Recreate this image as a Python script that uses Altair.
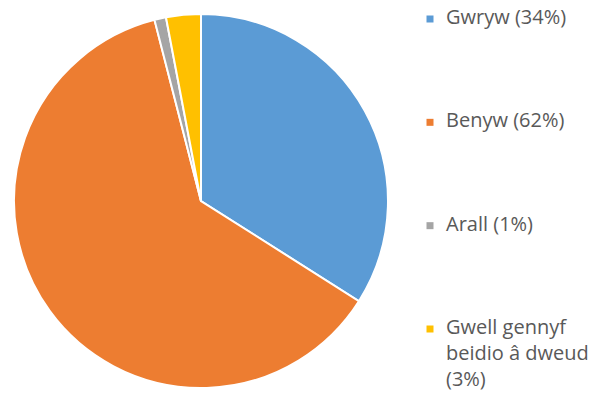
import altair as alt
import pandas as pd

categories = ["Gwryw", "Benyw", "Arall", "Gwell gennyf beidio â dweud"]
values = [34, 62, 1, 3]
legend_labels = ["Gwryw (34%)", "Benyw (62%)", "Arall (1%)", "Gwell gennyf\nbeidio â dweud\n(3%)"]
colors = ["#5B9BD5", "#ED7D31", "#A5A5A5", "#FFC000"]

df = pd.DataFrame({
    "category": categories,
    "value": values,
    "label": legend_labels,
    "order": list(range(len(categories))),
})

color_scale = alt.Scale(domain=categories, range=colors)

pie = alt.Chart(df).mark_arc(outerRadius=187, stroke="white", strokeWidth=2).encode(
    theta=alt.Theta("value:Q", stack=True),
    order=alt.Order("order:Q"),
    color=alt.Color("category:N", scale=color_scale, legend=None),
    x=alt.value(193),
    y=alt.value(193),
)

legend_y = alt.Y("order:Q", scale=alt.Scale(domain=[0, 3], range=[11, 321]), axis=None)

leg_sym = alt.Chart(df).mark_square(size=49, opacity=1).encode(
    x=alt.value(422),
    y=legend_y,
    color=alt.Color("category:N", scale=color_scale, legend=None),
)

leg_txt = alt.Chart(df).mark_text(
    align="left", baseline="top", dy=-11, fontSize=20, font="Open Sans",
    color="#595959", lineBreak="\n", lineHeight=26,
).encode(
    x=alt.value(438),
    y=legend_y,
    text="label:N",
)

chart = alt.layer(pie, leg_sym, leg_txt).properties(
    width=592, height=384, padding=0, autosize=alt.AutoSizeParams(type="none"),
).configure_view(stroke=None)

chart.save("out.html", embed_options={"renderer": "svg", "actions": False})
